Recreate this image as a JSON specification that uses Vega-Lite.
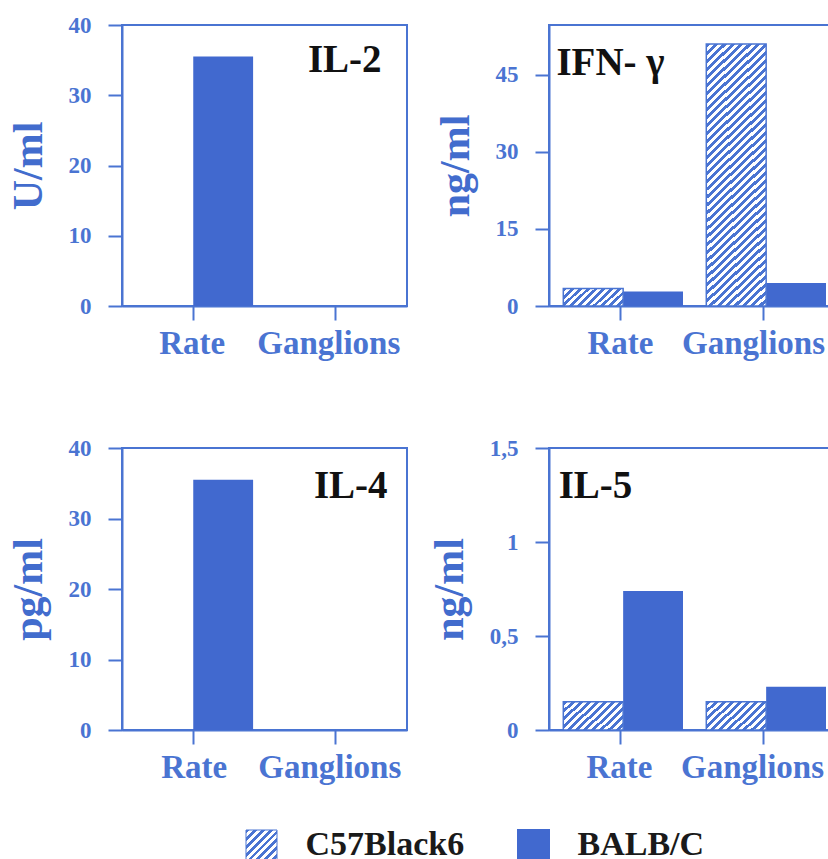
{
  "$schema": "https://vega.github.io/schema/vega-lite/v6.json",
  "background": "white",
  "padding": {"left": 6, "top": 13, "right": 0, "bottom": 0},
  "data": {"values": [
    {"panel": "IL-2", "site": "Rate", "strain": "C57Black6", "value": 0},
    {"panel": "IL-2", "site": "Rate", "strain": "BALB/C", "value": 35.5},
    {"panel": "IL-2", "site": "Ganglions", "strain": "C57Black6", "value": 0},
    {"panel": "IL-2", "site": "Ganglions", "strain": "BALB/C", "value": 0},
    {"panel": "IFN", "site": "Rate", "strain": "C57Black6", "value": 3.4},
    {"panel": "IFN", "site": "Rate", "strain": "BALB/C", "value": 2.8},
    {"panel": "IFN", "site": "Ganglions", "strain": "C57Black6", "value": 51},
    {"panel": "IFN", "site": "Ganglions", "strain": "BALB/C", "value": 4.5},
    {"panel": "IL-4", "site": "Rate", "strain": "C57Black6", "value": 0},
    {"panel": "IL-4", "site": "Rate", "strain": "BALB/C", "value": 35.5},
    {"panel": "IL-4", "site": "Ganglions", "strain": "C57Black6", "value": 0},
    {"panel": "IL-4", "site": "Ganglions", "strain": "BALB/C", "value": 0},
    {"panel": "IL-5", "site": "Rate", "strain": "C57Black6", "value": 0.15},
    {"panel": "IL-5", "site": "Rate", "strain": "BALB/C", "value": 0.74},
    {"panel": "IL-5", "site": "Ganglions", "strain": "C57Black6", "value": 0.15},
    {"panel": "IL-5", "site": "Ganglions", "strain": "BALB/C", "value": 0.23}
  ]},
  "columns": 2,
  "bounds": "flush",
  "spacing": {"row": 142, "column": 142},
  "concat": [
    {
      "width": 285, "height": 281,
      "layer": [
        {
          "transform": [{"filter": "datum.panel === 'IL-2' && datum.strain === 'BALB/C'"}],
          "mark": {"type": "bar", "fill": "#4169cf", "opacity": 1},
          "encoding": {
            "x": {"field": "site", "type": "nominal", "title": null, "scale": {"domain": ["Rate", "Ganglions"], "paddingInner": 0.16, "paddingOuter": 0.08}, "axis": {"labelOffset": {"condition": {"test": "datum.value === 'Ganglions'", "value": -7}, "value": -1}}},
            "xOffset": {"field": "strain", "type": "nominal", "scale": {"domain": ["C57Black6", "BALB/C"], "paddingInner": 0, "paddingOuter": 0}},
            "y": {"field": "value", "type": "quantitative", "title": "U/ml", "stack": null, "scale": {"domain": [0, 40], "nice": false}, "axis": {"values": [0, 10, 20, 30, 40]}}
          }
        },
        {
          "transform": [{"filter": "datum.panel === 'IL-2' && datum.strain === 'C57Black6'"}],
          "mark": {"type": "bar", "fill": "#ffffff", "stroke": "#4a74d2", "strokeWidth": 1.5, "opacity": 1},
          "encoding": {
            "x": {"field": "site", "type": "nominal", "title": null},
            "xOffset": {"field": "strain", "type": "nominal", "scale": {"domain": ["C57Black6", "BALB/C"], "paddingInner": 0, "paddingOuter": 0}},
            "y": {"field": "value", "type": "quantitative", "title": "U/ml", "stack": null}
          }
        },
        {
          "data": {"values": [{"label": "IL-2"}]},
          "mark": {"type": "text", "align": "center", "baseline": "alphabetic", "dx": 9, "font": "Liberation Serif", "fontWeight": "bold", "fontSize": 39, "color": "#111111"},
          "encoding": {
            "x": {"datum": "Ganglions", "title": null},
            "y": {"datum": 33.3, "type": "quantitative", "title": "U/ml"},
            "text": {"field": "label"}
          }
        }
      ]
    },
    {
      "width": 286, "height": 281,
      "layer": [
        {
          "transform": [{"filter": "datum.panel === 'IFN' && datum.strain === 'BALB/C'"}],
          "mark": {"type": "bar", "fill": "#4169cf", "opacity": 1},
          "encoding": {
            "x": {"field": "site", "type": "nominal", "title": null, "scale": {"domain": ["Rate", "Ganglions"], "paddingInner": 0.2, "paddingOuter": 0.1}, "axis": {"labelOffset": {"condition": {"test": "datum.value === 'Ganglions'", "value": -10}, "value": 0}}},
            "xOffset": {"field": "strain", "type": "nominal", "scale": {"domain": ["C57Black6", "BALB/C"], "paddingInner": 0, "paddingOuter": 0}},
            "y": {"field": "value", "type": "quantitative", "title": "ng/ml", "stack": null, "scale": {"domain": [0, 54.7], "nice": false}, "axis": {"values": [0, 15, 30, 45]}}
          }
        },
        {
          "transform": [{"filter": "datum.panel === 'IFN' && datum.strain === 'C57Black6' && datum.site === 'Rate'"}],
          "mark": {"type": "bar", "stroke": "#4a74d2", "strokeWidth": 1.5, "opacity": 1,
            "fill": {"gradient": "linear", "x1": 0, "y1": 0, "x2": 1.194, "y2": 0.365, "stops": [
              {"offset": 0.05, "color": "#4a74d2"}, {"offset": 0.05, "color": "#fff"},
              {"offset": 0.1, "color": "#fff"}, {"offset": 0.1, "color": "#4a74d2"},
              {"offset": 0.15, "color": "#4a74d2"}, {"offset": 0.15, "color": "#fff"},
              {"offset": 0.2, "color": "#fff"}, {"offset": 0.2, "color": "#4a74d2"},
              {"offset": 0.25, "color": "#4a74d2"}, {"offset": 0.25, "color": "#fff"},
              {"offset": 0.3, "color": "#fff"}, {"offset": 0.3, "color": "#4a74d2"},
              {"offset": 0.35, "color": "#4a74d2"}, {"offset": 0.35, "color": "#fff"},
              {"offset": 0.4, "color": "#fff"}, {"offset": 0.4, "color": "#4a74d2"},
              {"offset": 0.45, "color": "#4a74d2"}, {"offset": 0.45, "color": "#fff"},
              {"offset": 0.5, "color": "#fff"}, {"offset": 0.5, "color": "#4a74d2"},
              {"offset": 0.55, "color": "#4a74d2"}, {"offset": 0.55, "color": "#fff"},
              {"offset": 0.6, "color": "#fff"}, {"offset": 0.6, "color": "#4a74d2"},
              {"offset": 0.65, "color": "#4a74d2"}, {"offset": 0.65, "color": "#fff"},
              {"offset": 0.7, "color": "#fff"}, {"offset": 0.7, "color": "#4a74d2"},
              {"offset": 0.75, "color": "#4a74d2"}, {"offset": 0.75, "color": "#fff"},
              {"offset": 0.8, "color": "#fff"}, {"offset": 0.8, "color": "#4a74d2"},
              {"offset": 0.85, "color": "#4a74d2"}, {"offset": 0.85, "color": "#fff"},
              {"offset": 0.9, "color": "#fff"}, {"offset": 0.9, "color": "#4a74d2"},
              {"offset": 0.95, "color": "#4a74d2"}, {"offset": 0.95, "color": "#fff"}
            ]}},
          "encoding": {
            "x": {"field": "site", "type": "nominal", "title": null},
            "xOffset": {"field": "strain", "type": "nominal", "scale": {"domain": ["C57Black6", "BALB/C"], "paddingInner": 0, "paddingOuter": 0}},
            "y": {"field": "value", "type": "quantitative", "title": "ng/ml", "stack": null}
          }
        },
        {
          "transform": [{"filter": "datum.panel === 'IFN' && datum.strain === 'C57Black6' && datum.site === 'Ganglions'"}],
          "mark": {"type": "bar", "stroke": "#4a74d2", "strokeWidth": 1.5, "opacity": 1,
            "fill": {"gradient": "linear", "x1": 0, "y1": 0, "x2": 0.2539, "y2": 1.163, "stops": [
              {"offset": 0.0125, "color": "#4a74d2"}, {"offset": 0.0125, "color": "#fff"},
              {"offset": 0.025, "color": "#fff"}, {"offset": 0.025, "color": "#4a74d2"},
              {"offset": 0.0375, "color": "#4a74d2"}, {"offset": 0.0375, "color": "#fff"},
              {"offset": 0.05, "color": "#fff"}, {"offset": 0.05, "color": "#4a74d2"},
              {"offset": 0.0625, "color": "#4a74d2"}, {"offset": 0.0625, "color": "#fff"},
              {"offset": 0.075, "color": "#fff"}, {"offset": 0.075, "color": "#4a74d2"},
              {"offset": 0.0875, "color": "#4a74d2"}, {"offset": 0.0875, "color": "#fff"},
              {"offset": 0.1, "color": "#fff"}, {"offset": 0.1, "color": "#4a74d2"},
              {"offset": 0.1125, "color": "#4a74d2"}, {"offset": 0.1125, "color": "#fff"},
              {"offset": 0.125, "color": "#fff"}, {"offset": 0.125, "color": "#4a74d2"},
              {"offset": 0.1375, "color": "#4a74d2"}, {"offset": 0.1375, "color": "#fff"},
              {"offset": 0.15, "color": "#fff"}, {"offset": 0.15, "color": "#4a74d2"},
              {"offset": 0.1625, "color": "#4a74d2"}, {"offset": 0.1625, "color": "#fff"},
              {"offset": 0.175, "color": "#fff"}, {"offset": 0.175, "color": "#4a74d2"},
              {"offset": 0.1875, "color": "#4a74d2"}, {"offset": 0.1875, "color": "#fff"},
              {"offset": 0.2, "color": "#fff"}, {"offset": 0.2, "color": "#4a74d2"},
              {"offset": 0.2125, "color": "#4a74d2"}, {"offset": 0.2125, "color": "#fff"},
              {"offset": 0.225, "color": "#fff"}, {"offset": 0.225, "color": "#4a74d2"},
              {"offset": 0.2375, "color": "#4a74d2"}, {"offset": 0.2375, "color": "#fff"},
              {"offset": 0.25, "color": "#fff"}, {"offset": 0.25, "color": "#4a74d2"},
              {"offset": 0.2625, "color": "#4a74d2"}, {"offset": 0.2625, "color": "#fff"},
              {"offset": 0.275, "color": "#fff"}, {"offset": 0.275, "color": "#4a74d2"},
              {"offset": 0.2875, "color": "#4a74d2"}, {"offset": 0.2875, "color": "#fff"},
              {"offset": 0.3, "color": "#fff"}, {"offset": 0.3, "color": "#4a74d2"},
              {"offset": 0.3125, "color": "#4a74d2"}, {"offset": 0.3125, "color": "#fff"},
              {"offset": 0.325, "color": "#fff"}, {"offset": 0.325, "color": "#4a74d2"},
              {"offset": 0.3375, "color": "#4a74d2"}, {"offset": 0.3375, "color": "#fff"},
              {"offset": 0.35, "color": "#fff"}, {"offset": 0.35, "color": "#4a74d2"},
              {"offset": 0.3625, "color": "#4a74d2"}, {"offset": 0.3625, "color": "#fff"},
              {"offset": 0.375, "color": "#fff"}, {"offset": 0.375, "color": "#4a74d2"},
              {"offset": 0.3875, "color": "#4a74d2"}, {"offset": 0.3875, "color": "#fff"},
              {"offset": 0.4, "color": "#fff"}, {"offset": 0.4, "color": "#4a74d2"},
              {"offset": 0.4125, "color": "#4a74d2"}, {"offset": 0.4125, "color": "#fff"},
              {"offset": 0.425, "color": "#fff"}, {"offset": 0.425, "color": "#4a74d2"},
              {"offset": 0.4375, "color": "#4a74d2"}, {"offset": 0.4375, "color": "#fff"},
              {"offset": 0.45, "color": "#fff"}, {"offset": 0.45, "color": "#4a74d2"},
              {"offset": 0.4625, "color": "#4a74d2"}, {"offset": 0.4625, "color": "#fff"},
              {"offset": 0.475, "color": "#fff"}, {"offset": 0.475, "color": "#4a74d2"},
              {"offset": 0.4875, "color": "#4a74d2"}, {"offset": 0.4875, "color": "#fff"},
              {"offset": 0.5, "color": "#fff"}, {"offset": 0.5, "color": "#4a74d2"},
              {"offset": 0.5125, "color": "#4a74d2"}, {"offset": 0.5125, "color": "#fff"},
              {"offset": 0.525, "color": "#fff"}, {"offset": 0.525, "color": "#4a74d2"},
              {"offset": 0.5375, "color": "#4a74d2"}, {"offset": 0.5375, "color": "#fff"},
              {"offset": 0.55, "color": "#fff"}, {"offset": 0.55, "color": "#4a74d2"},
              {"offset": 0.5625, "color": "#4a74d2"}, {"offset": 0.5625, "color": "#fff"},
              {"offset": 0.575, "color": "#fff"}, {"offset": 0.575, "color": "#4a74d2"},
              {"offset": 0.5875, "color": "#4a74d2"}, {"offset": 0.5875, "color": "#fff"},
              {"offset": 0.6, "color": "#fff"}, {"offset": 0.6, "color": "#4a74d2"},
              {"offset": 0.6125, "color": "#4a74d2"}, {"offset": 0.6125, "color": "#fff"},
              {"offset": 0.625, "color": "#fff"}, {"offset": 0.625, "color": "#4a74d2"},
              {"offset": 0.6375, "color": "#4a74d2"}, {"offset": 0.6375, "color": "#fff"},
              {"offset": 0.65, "color": "#fff"}, {"offset": 0.65, "color": "#4a74d2"},
              {"offset": 0.6625, "color": "#4a74d2"}, {"offset": 0.6625, "color": "#fff"},
              {"offset": 0.675, "color": "#fff"}, {"offset": 0.675, "color": "#4a74d2"},
              {"offset": 0.6875, "color": "#4a74d2"}, {"offset": 0.6875, "color": "#fff"},
              {"offset": 0.7, "color": "#fff"}, {"offset": 0.7, "color": "#4a74d2"},
              {"offset": 0.7125, "color": "#4a74d2"}, {"offset": 0.7125, "color": "#fff"},
              {"offset": 0.725, "color": "#fff"}, {"offset": 0.725, "color": "#4a74d2"},
              {"offset": 0.7375, "color": "#4a74d2"}, {"offset": 0.7375, "color": "#fff"},
              {"offset": 0.75, "color": "#fff"}, {"offset": 0.75, "color": "#4a74d2"},
              {"offset": 0.7625, "color": "#4a74d2"}, {"offset": 0.7625, "color": "#fff"},
              {"offset": 0.775, "color": "#fff"}, {"offset": 0.775, "color": "#4a74d2"},
              {"offset": 0.7875, "color": "#4a74d2"}, {"offset": 0.7875, "color": "#fff"},
              {"offset": 0.8, "color": "#fff"}, {"offset": 0.8, "color": "#4a74d2"},
              {"offset": 0.8125, "color": "#4a74d2"}, {"offset": 0.8125, "color": "#fff"},
              {"offset": 0.825, "color": "#fff"}, {"offset": 0.825, "color": "#4a74d2"},
              {"offset": 0.8375, "color": "#4a74d2"}, {"offset": 0.8375, "color": "#fff"},
              {"offset": 0.85, "color": "#fff"}, {"offset": 0.85, "color": "#4a74d2"},
              {"offset": 0.8625, "color": "#4a74d2"}, {"offset": 0.8625, "color": "#fff"},
              {"offset": 0.875, "color": "#fff"}, {"offset": 0.875, "color": "#4a74d2"},
              {"offset": 0.8875, "color": "#4a74d2"}, {"offset": 0.8875, "color": "#fff"},
              {"offset": 0.9, "color": "#fff"}, {"offset": 0.9, "color": "#4a74d2"},
              {"offset": 0.9125, "color": "#4a74d2"}, {"offset": 0.9125, "color": "#fff"},
              {"offset": 0.925, "color": "#fff"}, {"offset": 0.925, "color": "#4a74d2"},
              {"offset": 0.9375, "color": "#4a74d2"}, {"offset": 0.9375, "color": "#fff"},
              {"offset": 0.95, "color": "#fff"}, {"offset": 0.95, "color": "#4a74d2"},
              {"offset": 0.9625, "color": "#4a74d2"}, {"offset": 0.9625, "color": "#fff"},
              {"offset": 0.975, "color": "#fff"}, {"offset": 0.975, "color": "#4a74d2"},
              {"offset": 0.9875, "color": "#4a74d2"}, {"offset": 0.9875, "color": "#fff"}
            ]}},
          "encoding": {
            "x": {"field": "site", "type": "nominal", "title": null},
            "xOffset": {"field": "strain", "type": "nominal", "scale": {"domain": ["C57Black6", "BALB/C"], "paddingInner": 0, "paddingOuter": 0}},
            "y": {"field": "value", "type": "quantitative", "title": "ng/ml", "stack": null}
          }
        },
        {
          "data": {"values": [{"label": "IFN- γ"}]},
          "mark": {"type": "text", "align": "center", "baseline": "alphabetic", "dx": -10, "font": "Liberation Serif", "fontWeight": "bold", "fontSize": 39, "color": "#111111"},
          "encoding": {
            "x": {"datum": "Rate", "title": null},
            "y": {"datum": 45, "type": "quantitative", "title": "ng/ml"},
            "text": {"field": "label"}
          }
        }
      ]
    },
    {
      "width": 285, "height": 282,
      "layer": [
        {
          "transform": [{"filter": "datum.panel === 'IL-4' && datum.strain === 'BALB/C'"}],
          "mark": {"type": "bar", "fill": "#4169cf", "opacity": 1},
          "encoding": {
            "x": {"field": "site", "type": "nominal", "title": null, "scale": {"domain": ["Rate", "Ganglions"], "paddingInner": 0.16, "paddingOuter": 0.08}, "axis": {"labelOffset": {"condition": {"test": "datum.value === 'Ganglions'", "value": -6}, "value": 1}}},
            "xOffset": {"field": "strain", "type": "nominal", "scale": {"domain": ["C57Black6", "BALB/C"], "paddingInner": 0, "paddingOuter": 0}},
            "y": {"field": "value", "type": "quantitative", "title": "pg/ml", "stack": null, "scale": {"domain": [0, 40], "nice": false}, "axis": {"values": [0, 10, 20, 30, 40]}}
          }
        },
        {
          "transform": [{"filter": "datum.panel === 'IL-4' && datum.strain === 'C57Black6'"}],
          "mark": {"type": "bar", "fill": "#ffffff", "stroke": "#4a74d2", "strokeWidth": 1.5, "opacity": 1},
          "encoding": {
            "x": {"field": "site", "type": "nominal", "title": null},
            "xOffset": {"field": "strain", "type": "nominal", "scale": {"domain": ["C57Black6", "BALB/C"], "paddingInner": 0, "paddingOuter": 0}},
            "y": {"field": "value", "type": "quantitative", "title": "pg/ml", "stack": null}
          }
        },
        {
          "data": {"values": [{"label": "IL-4"}]},
          "mark": {"type": "text", "align": "center", "baseline": "alphabetic", "dx": 15, "font": "Liberation Serif", "fontWeight": "bold", "fontSize": 39, "color": "#111111"},
          "encoding": {
            "x": {"datum": "Ganglions", "title": null},
            "y": {"datum": 32.9, "type": "quantitative", "title": "pg/ml"},
            "text": {"field": "label"}
          }
        }
      ]
    },
    {
      "width": 286, "height": 282,
      "layer": [
        {
          "transform": [{"filter": "datum.panel === 'IL-5' && datum.strain === 'BALB/C'"}],
          "mark": {"type": "bar", "fill": "#4169cf", "opacity": 1},
          "encoding": {
            "x": {"field": "site", "type": "nominal", "title": null, "scale": {"domain": ["Rate", "Ganglions"], "paddingInner": 0.2, "paddingOuter": 0.1}, "axis": {"labelOffset": {"condition": {"test": "datum.value === 'Ganglions'", "value": -11}, "value": -1}}},
            "xOffset": {"field": "strain", "type": "nominal", "scale": {"domain": ["C57Black6", "BALB/C"], "paddingInner": 0, "paddingOuter": 0}},
            "y": {"field": "value", "type": "quantitative", "title": "ng/ml", "stack": null, "scale": {"domain": [0, 1.5], "nice": false}, "axis": {"values": [0, 0.5, 1, 1.5], "format": "~g", "labelExpr": "replace(datum.label, '.', ',')"}}
          }
        },
        {
          "transform": [{"filter": "datum.panel === 'IL-5' && datum.strain === 'C57Black6'"}],
          "mark": {"type": "bar", "stroke": "#4a74d2", "strokeWidth": 1.5, "opacity": 1,
            "fill": {"gradient": "linear", "x1": 0, "y1": 0, "x2": 1.201, "y2": 0.592, "stops": [
              {"offset": 0.0455, "color": "#4a74d2"}, {"offset": 0.0455, "color": "#fff"},
              {"offset": 0.0909, "color": "#fff"}, {"offset": 0.0909, "color": "#4a74d2"},
              {"offset": 0.1364, "color": "#4a74d2"}, {"offset": 0.1364, "color": "#fff"},
              {"offset": 0.1818, "color": "#fff"}, {"offset": 0.1818, "color": "#4a74d2"},
              {"offset": 0.2273, "color": "#4a74d2"}, {"offset": 0.2273, "color": "#fff"},
              {"offset": 0.2727, "color": "#fff"}, {"offset": 0.2727, "color": "#4a74d2"},
              {"offset": 0.3182, "color": "#4a74d2"}, {"offset": 0.3182, "color": "#fff"},
              {"offset": 0.3636, "color": "#fff"}, {"offset": 0.3636, "color": "#4a74d2"},
              {"offset": 0.4091, "color": "#4a74d2"}, {"offset": 0.4091, "color": "#fff"},
              {"offset": 0.4545, "color": "#fff"}, {"offset": 0.4545, "color": "#4a74d2"},
              {"offset": 0.5, "color": "#4a74d2"}, {"offset": 0.5, "color": "#fff"},
              {"offset": 0.5455, "color": "#fff"}, {"offset": 0.5455, "color": "#4a74d2"},
              {"offset": 0.5909, "color": "#4a74d2"}, {"offset": 0.5909, "color": "#fff"},
              {"offset": 0.6364, "color": "#fff"}, {"offset": 0.6364, "color": "#4a74d2"},
              {"offset": 0.6818, "color": "#4a74d2"}, {"offset": 0.6818, "color": "#fff"},
              {"offset": 0.7273, "color": "#fff"}, {"offset": 0.7273, "color": "#4a74d2"},
              {"offset": 0.7727, "color": "#4a74d2"}, {"offset": 0.7727, "color": "#fff"},
              {"offset": 0.8182, "color": "#fff"}, {"offset": 0.8182, "color": "#4a74d2"},
              {"offset": 0.8636, "color": "#4a74d2"}, {"offset": 0.8636, "color": "#fff"},
              {"offset": 0.9091, "color": "#fff"}, {"offset": 0.9091, "color": "#4a74d2"},
              {"offset": 0.9545, "color": "#4a74d2"}, {"offset": 0.9545, "color": "#fff"}
            ]}},
          "encoding": {
            "x": {"field": "site", "type": "nominal", "title": null},
            "xOffset": {"field": "strain", "type": "nominal", "scale": {"domain": ["C57Black6", "BALB/C"], "paddingInner": 0, "paddingOuter": 0}},
            "y": {"field": "value", "type": "quantitative", "title": "ng/ml", "stack": null}
          }
        },
        {
          "data": {"values": [{"label": "IL-5"}]},
          "mark": {"type": "text", "align": "center", "baseline": "alphabetic", "dx": -25, "font": "Liberation Serif", "fontWeight": "bold", "fontSize": 39, "color": "#111111"},
          "encoding": {
            "x": {"datum": "Rate", "title": null},
            "y": {"datum": 1.234, "type": "quantitative", "title": "ng/ml"},
            "text": {"field": "label"}
          }
        }
      ]
    },
    {
      "width": 285, "height": 31,
      "view": {"stroke": null},
      "data": {"values": [{"strain": "C57Black6"}, {"strain": "BALB/C"}]},
      "encoding": {
        "x": {"field": "strain", "type": "nominal", "axis": null, "scale": {"type": "point", "domain": ["C57Black6", "BALB/C"], "range": [139.5, 411.5], "padding": 0}}
      },
      "layer": [
        {
          "transform": [{"filter": "datum.strain === 'C57Black6'"}],
          "mark": {"type": "square", "size": 961, "opacity": 1, "yOffset": -42, "stroke": "#4a74d2", "strokeWidth": 1,
            "fill": {"gradient": "linear", "x1": 0, "y1": 0, "x2": 1, "y2": 1, "stops": [
              {"offset": 0.0625, "color": "#4a74d2"}, {"offset": 0.0625, "color": "#fff"},
              {"offset": 0.125, "color": "#fff"}, {"offset": 0.125, "color": "#4a74d2"},
              {"offset": 0.1875, "color": "#4a74d2"}, {"offset": 0.1875, "color": "#fff"},
              {"offset": 0.25, "color": "#fff"}, {"offset": 0.25, "color": "#4a74d2"},
              {"offset": 0.3125, "color": "#4a74d2"}, {"offset": 0.3125, "color": "#fff"},
              {"offset": 0.375, "color": "#fff"}, {"offset": 0.375, "color": "#4a74d2"},
              {"offset": 0.4375, "color": "#4a74d2"}, {"offset": 0.4375, "color": "#fff"},
              {"offset": 0.5, "color": "#fff"}, {"offset": 0.5, "color": "#4a74d2"},
              {"offset": 0.5625, "color": "#4a74d2"}, {"offset": 0.5625, "color": "#fff"},
              {"offset": 0.625, "color": "#fff"}, {"offset": 0.625, "color": "#4a74d2"},
              {"offset": 0.6875, "color": "#4a74d2"}, {"offset": 0.6875, "color": "#fff"},
              {"offset": 0.75, "color": "#fff"}, {"offset": 0.75, "color": "#4a74d2"},
              {"offset": 0.8125, "color": "#4a74d2"}, {"offset": 0.8125, "color": "#fff"},
              {"offset": 0.875, "color": "#fff"}, {"offset": 0.875, "color": "#4a74d2"},
              {"offset": 0.9375, "color": "#4a74d2"}, {"offset": 0.9375, "color": "#fff"}
            ]}}
        },
        {
          "transform": [{"filter": "datum.strain === 'BALB/C'"}],
          "mark": {"type": "square", "size": 1089, "opacity": 1, "yOffset": -42, "fill": "#4169cf", "strokeWidth": 0}
        },
        {
          "mark": {"type": "text", "align": "left", "baseline": "middle", "dx": 44, "dy": -43, "font": "Liberation Serif", "fontWeight": "bold", "fontSize": 34, "color": "#1a1a1a"},
          "encoding": {"text": {"field": "strain"}}
        }
      ]
    }
  ],
  "config": {
    "font": "Liberation Serif",
    "view": {"stroke": "#4a74d2", "strokeWidth": 2},
    "axis": {
      "domainColor": "#4a74d2", "domainWidth": 2,
      "tickColor": "#4a74d2", "tickWidth": 2, "tickSize": 14,
      "labelColor": "#4a74d2", "labelFont": "Liberation Serif", "labelFontWeight": "bold",
      "titleColor": "#426ccd", "titleFont": "Liberation Serif", "titleFontWeight": "bold",
      "grid": false, "zindex": 1
    },
    "axisX": {"labelFontSize": 33, "labelPadding": 7, "labelAngle": 0},
    "axisY": {"labelFontSize": 23, "labelPadding": 17, "titleFontSize": 42, "titlePadding": 18}
  }
}
